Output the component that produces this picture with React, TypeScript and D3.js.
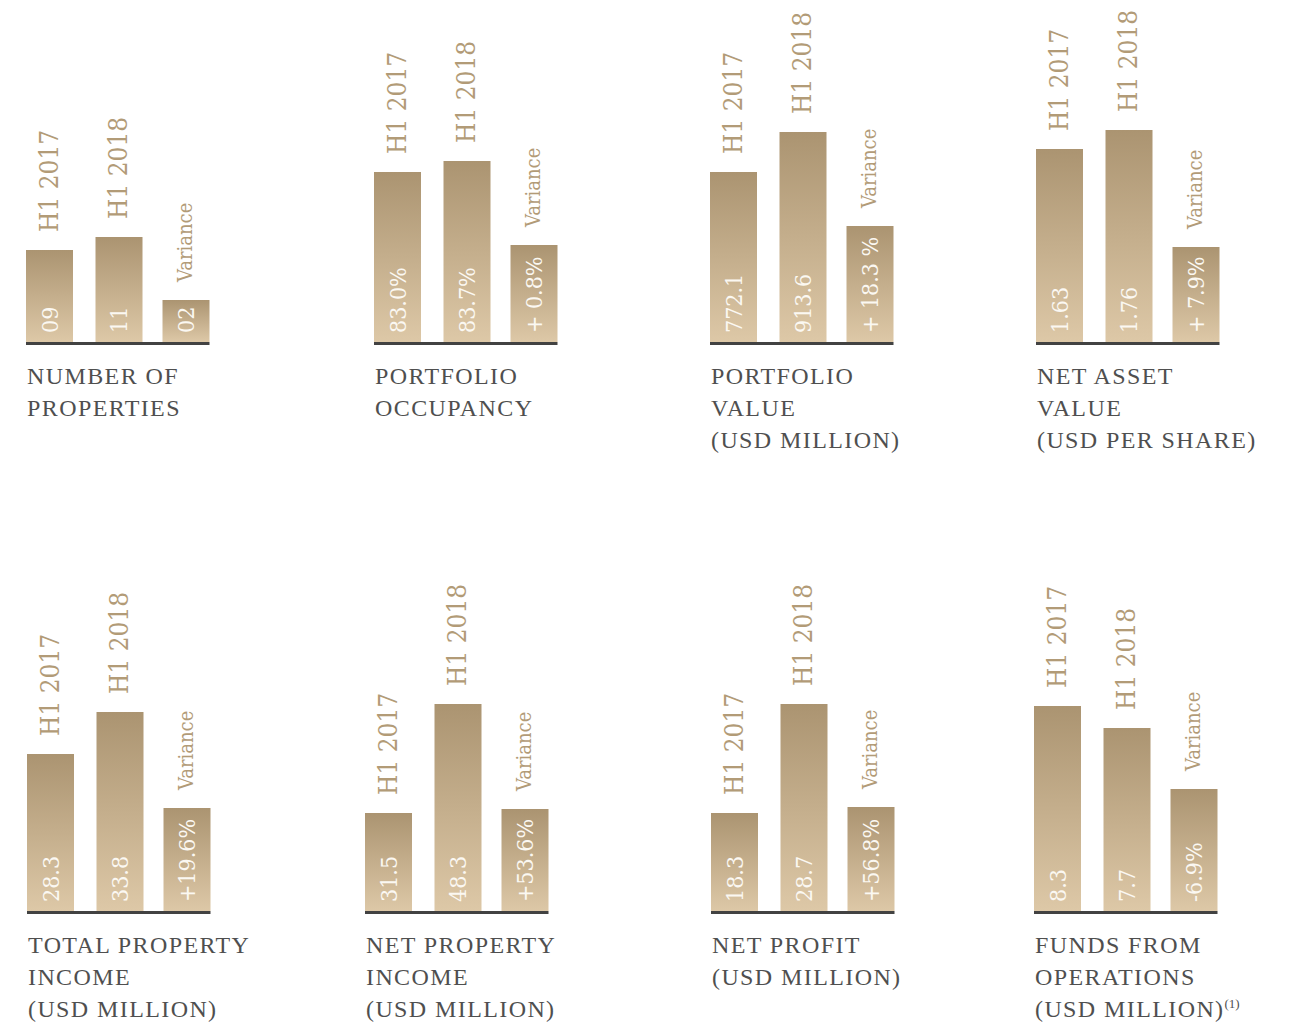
import * as d3 from "d3";

// ---- data ----
const categories = ["H1 2017", "H1 2018", "Variance"];

const panelTitles = [
  ["NUMBER OF", "PROPERTIES"],
  ["PORTFOLIO", "OCCUPANCY"],
  ["PORTFOLIO", "VALUE", "(USD MILLION)"],
  ["NET ASSET", "VALUE", "(USD PER SHARE)"],
  ["TOTAL PROPERTY", "INCOME", "(USD MILLION)"],
  ["NET PROPERTY", "INCOME", "(USD MILLION)"],
  ["NET PROFIT", "(USD MILLION)"],
  ["FUNDS FROM", "OPERATIONS", "(USD MILLION)"],
];

const footnotes = ["", "", "", "", "", "", "", "(1)"];

const valueLabels = [
  ["09", "11", "02"],
  ["83.0%", "83.7%", "+ 0.8%"],
  ["772.1", "913.6", "+ 18.3 %"],
  ["1.63", "1.76", "+ 7.9%"],
  ["28.3", "33.8", "+19.6%"],
  ["31.5", "48.3", "+53.6%"],
  ["18.3", "28.7", "+56.8%"],
  ["8.3", "7.7", "-6.9%"],
];

// bar heights as drawn (illustrative index, not proportional to the labels)
const barIndex = [
  [92, 105, 42],
  [170, 181, 97],
  [170, 210, 116],
  [193, 212, 95],
  [157, 199, 103],
  [98, 207, 102],
  [98, 207, 104],
  [205, 183, 122],
];

// ---- layout ----
const WIDTH = 1293;
const HEIGHT = 1024;
const PANEL_LEFT = [26, 374, 710, 1036, 27, 365, 711, 1034];
const ROW_BASE = [342, 911];
const BAR_OFFSETS = [0, 69.5, 136.5];
const BAR_WIDTH = 47;

const LABEL_FONT = "'DejaVu Serif Condensed', 'DejaVu Serif', serif";
const TITLE_FONT = "'Liberation Serif', serif";
const GOLD = "#b29b77";

const xScale = d3.scaleOrdinal<string, number>().domain(categories).range(BAR_OFFSETS);
const yScale = d3.scaleLinear().domain([0, 220]).range([0, 220]);

const Panel = ({ i }: { i: number }) => {
  const left = PANEL_LEFT[i];
  const base = ROW_BASE[i < 4 ? 0 : 1];
  const lineRight = xScale(categories[2]) + BAR_WIDTH;

  return (
    <g transform={`translate(${left},${base})`}>
      {categories.map((c, j) => {
        const h = yScale(barIndex[i][j]);
        const cx = xScale(c) + BAR_WIDTH / 2;
        return (
          <g key={c}>
            <rect x={xScale(c)} y={-h} width={BAR_WIDTH} height={h} fill="url(#barGrad)" />
            <text
              transform={`translate(${cx - 1},${-h - 18}) rotate(-90)`}
              dy="0.36em"
              fill={GOLD}
              fontFamily={LABEL_FONT}
              fontSize={j === 2 ? 20 : 26}
            >
              {c}
            </text>
            <text
              transform={`translate(${cx},${-9}) rotate(-90)`}
              dy="0.36em"
              fill="#fbf8f2"
              fontFamily={LABEL_FONT}
              fontSize={23}
            >
              {valueLabels[i][j]}
            </text>
          </g>
        );
      })}
      <rect x={0} y={0} width={lineRight} height={3} fill="#424242" />
      <text fontFamily={TITLE_FONT} fontSize={24} fill="#4f4f4f" letterSpacing={1.4}>
        {panelTitles[i].map((t, k) => (
          <tspan key={k} x={1} y={41.5 + k * 32}>
            {t}
            {k === panelTitles[i].length - 1 && footnotes[i] ? (
              <tspan dy={-9} fontSize={13} letterSpacing={0}>
                {footnotes[i]}
              </tspan>
            ) : null}
          </tspan>
        ))}
      </text>
    </g>
  );
};

export default function App() {
  return (
    <svg
      width={WIDTH}
      height={HEIGHT}
      style={{ position: "absolute", left: 0, top: 0, background: "#fff" }}
    >
      <defs>
        <linearGradient id="barGrad" x1="0" y1="0" x2="0" y2="1">
          <stop offset="0%" stopColor="#ab9471" />
          <stop offset="100%" stopColor="#ddc8a7" />
        </linearGradient>
      </defs>
      {panelTitles.map((_, i) => (
        <Panel key={i} i={i} />
      ))}
    </svg>
  );
}
